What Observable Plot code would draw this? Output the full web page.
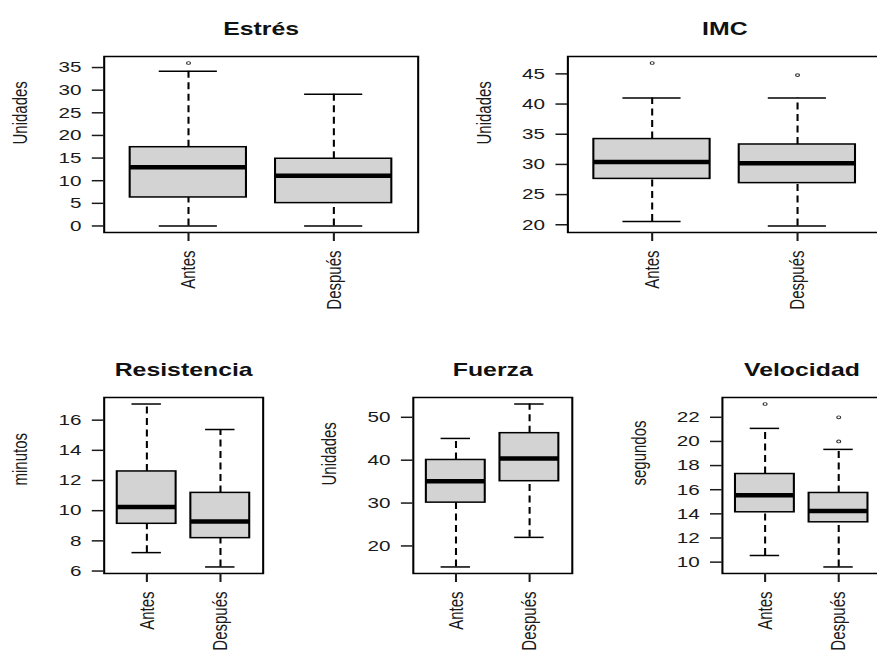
<!DOCTYPE html>
<html>
<head>
<meta charset="utf-8">
<script src="https://cdn.jsdelivr.net/npm/d3@7"></script>
<script src="https://cdn.jsdelivr.net/npm/@observablehq/plot@0.6"></script>
<style>
  html, body { margin: 0; padding: 0; background: #fff; }
  #outer { position: relative; width: 877px; height: 653px; overflow: hidden; background: #fff; }
  #stage { position: absolute; left: 0; top: 0; height: 653px; transform-origin: 0 0; }
  #stage > svg { position: absolute; }
</style>
</head>
<body>
<div id="outer"><div id="stage"></div></div>
<script>
// ---- data ----
const groups = ["Antes", "Después"];
const titles = ["Estrés", "IMC", "Resistencia", "Fuerza", "Velocidad"];
const yLabels = ["Unidades", "Unidades", "minutos", "Unidades", "segundos"];
const whiskerLow  = [[0, 0],      [20.55, 19.8], [7.22, 6.27], [15.1, 22.0], [10.55, 9.6]];
const lowerHinge  = [[6.3, 5.05], [27.6, 26.9],  [9.13, 8.18], [30.1, 35.1], [14.13, 13.3]];
const medians     = [[13.0, 11.1],[30.4, 30.2],  [10.25, 9.29],[35.1, 40.4], [15.54, 14.24]];
const upperHinge  = [[17.4, 14.85],[34.2, 33.3], [12.6, 11.18],[40.05, 46.3],[17.3, 15.73]];
const whiskerHigh = [[34.2, 29.1],[41.0, 41.0],  [17.07, 15.38],[45.07, 53.1],[21.08, 19.34]];
const outliers    = [[[36], []], [[46.8], [44.8]], [[], []], [[], []], [[23.1], [22.0, 20.0]]];
const yTicks = [
  [0, 5, 10, 15, 20, 25, 30, 35],
  [20, 25, 30, 35, 40, 45],
  [6, 8, 10, 12, 14, 16],
  [20, 30, 40, 50],
  [10, 12, 14, 16, 18, 20, 22]
];

// ---- layout (screen px of each plot frame) ----
const S = 1.38; // horizontal stretch of the original picture
const frames = [
  {l: 103, r: 417, t: 56, b: 232},
  {l: 567, r: 881, t: 56, b: 232},
  {l: 103, r: 262, t: 397, b: 573},
  {l: 413, r: 572, t: 397, b: 573},
  {l: 722, r: 881, t: 397, b: 573}
];

const stage = document.getElementById("stage");
stage.style.width = (877 / S) + "px";
stage.style.transform = `scaleX(${S})`;

function panel(i) {
  const f = frames[i];
  const ml = 80, mr = 10, mt = 50, mb = 90;
  const fw = (f.r - f.l) / S, fh = f.b - f.t;
  const rows = groups.map((g, j) => ({
    x: j + 1, g,
    lo: whiskerLow[i][j], q1: lowerHinge[i][j], med: medians[i][j],
    q3: upperHinge[i][j], hi: whiskerHigh[i][j]
  }));
  const outs = rows.flatMap((d, j) => outliers[i][j].map(v => ({x: d.x, v})));
  const vals = [...rows.map(d => d.lo), ...rows.map(d => d.hi), ...outs.map(d => d.v)];
  const mn = d3.min(vals), mx = d3.max(vals), pad = 0.04 * (mx - mn);
  const lw = 1.5;
  const svg = Plot.plot({
    width: fw + ml + mr,
    height: fh + mt + mb,
    marginLeft: ml, marginRight: mr, marginTop: mt, marginBottom: mb,
    x: {domain: [0.42, 2.58]},
    y: {domain: [mn - pad, mx + pad]},
    style: {fontFamily: "'Liberation Sans', Arial, sans-serif", fontSize: "15px", color: "#1a1a1a", background: "transparent", overflow: "visible"},
    marks: [
      Plot.ruleX(rows, {x: "x", y1: "lo", y2: "q1", stroke: "black", strokeWidth: lw, strokeDasharray: "7,4.5"}),
      Plot.ruleX(rows, {x: "x", y1: "q3", y2: "hi", stroke: "black", strokeWidth: lw, strokeDasharray: "7,4.5"}),
      Plot.ruleY(rows, {y: "lo", x1: d => d.x - 0.2, x2: d => d.x + 0.2, stroke: "black", strokeWidth: lw}),
      Plot.ruleY(rows, {y: "hi", x1: d => d.x - 0.2, x2: d => d.x + 0.2, stroke: "black", strokeWidth: lw}),
      Plot.rect(rows, {x1: d => d.x - 0.4, x2: d => d.x + 0.4, y1: "q1", y2: "q3", fill: "#d3d3d3", stroke: "black", strokeWidth: lw}),
      Plot.ruleY(rows, {y: "med", x1: d => d.x - 0.4, x2: d => d.x + 0.4, stroke: "black", strokeWidth: 4.5}),
      Plot.dot(outs, {x: "x", y: "v", r: 1.4, stroke: "#333", strokeWidth: 0.9, fill: "none"}),
      Plot.frame({stroke: "black", strokeWidth: lw}),
      Plot.axisY(yTicks[i], {tickSize: 8.5, tickPadding: 8, label: null, fontSize: 15, strokeWidth: lw}),
      Plot.axisX([1, 2], {tickSize: 9, tickPadding: 9, tickRotate: -90, tickFormat: d => groups[d - 1], label: null, fontSize: 15, strokeWidth: lw}),
      Plot.text([titles[i]], {frameAnchor: "top", dy: -34, fontWeight: "bold", fontSize: 18, fill: "#111"}),
      Plot.text([yLabels[i]], {frameAnchor: "left", dx: -60.5, rotate: -90, fontSize: 15, fill: "#1a1a1a"})
    ]
  });
  svg.style.left = (f.l / S - ml) + "px";
  svg.style.top = (f.t - mt) + "px";
  stage.appendChild(svg);
}
for (let i = 0; i < titles.length; i++) panel(i);
</script>
</body>
</html>
